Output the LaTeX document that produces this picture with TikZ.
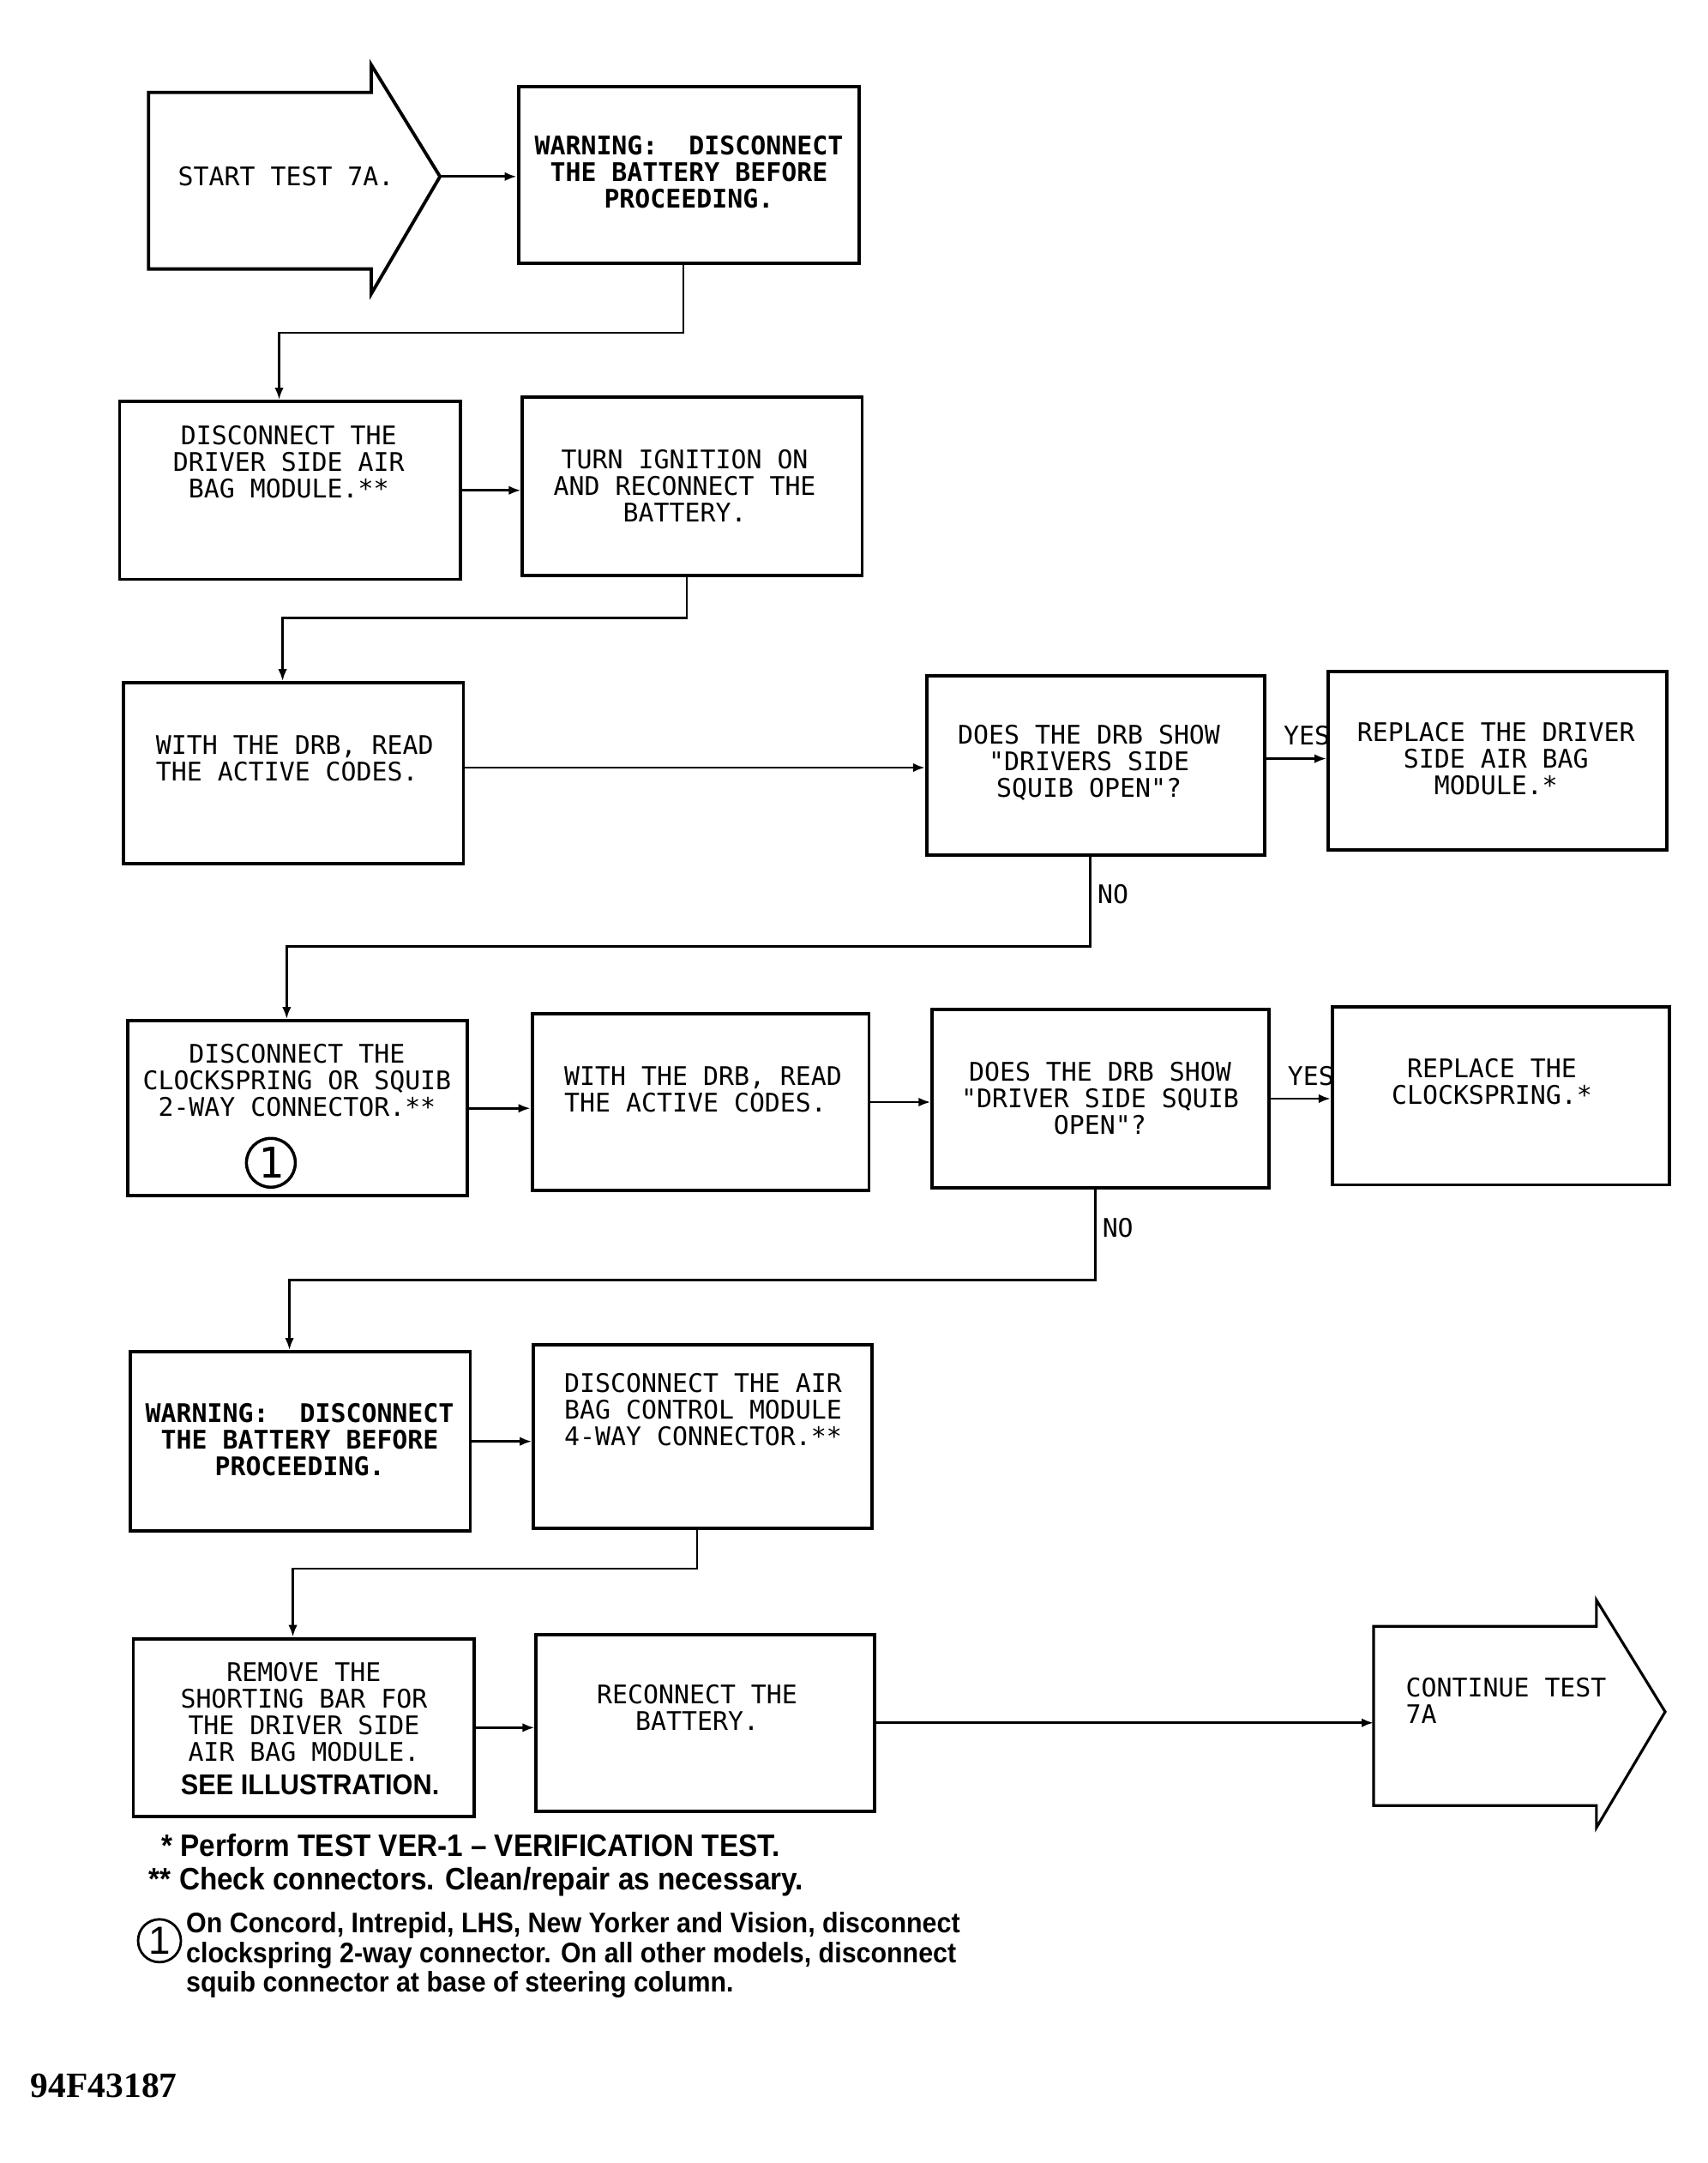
\documentclass[tikz,border=0pt]{standalone}
\usepackage{fontspec}
\setmainfont{Liberation Sans}
\newfontfamily\plotfont{DejaVu Sans Mono}
\newfontfamily\notefont[FakeStretch=0.92]{Liberation Sans}
\newfontfamily\tagfont{Liberation Serif}
\usetikzlibrary{arrows.meta}
\usetikzlibrary{fit}
\usetikzlibrary{calc}
\newcommand{\flowbox}[5] % name, left, top, right, bottom (px)
{
	% corners
	\coordinate (#1-nw) at (#2,#3);
	\coordinate (#1-se) at (#4,#5);
	% box
	\node[stepbox, fit=(#1-nw)(#1-se)] (#1) {};
}

\begin{document}
\begin{tikzpicture}[x=0.01604cm, y=-0.01609cm,
	stepbox/.style={draw, line width=1.1pt, inner sep=0pt},
	steptext/.style={font=\plotfont\fontsize{8.5}{8.8}\selectfont, align=center, inner sep=0pt},
	warntext/.style={steptext, font=\plotfont\bfseries\fontsize{8.5}{8.8}\selectfont},
	branch/.style={font=\plotfont\fontsize{8.5}{8.8}\selectfont, inner sep=2pt},
	flow/.style={line width=0.8pt, -{Latex[length=4pt,width=3pt]}},
	note/.style={font=\notefont\bfseries\fontsize{10.3}{10.5}\selectfont, anchor=west, inner sep=0pt, align=left}]
	\useasboundingbox (0cm,0cm) rectangle (19.91cm,-25.22cm);
	% start arrow
	\draw[line width=1.1pt] (108,67) -- (270,67) -- (270,47) -- (320,128) -- (270,213) -- (270,195) -- (108,195) -- cycle;
	\coordinate (start) at (320,128);
	\node[steptext] (start-txt) at (208,128) {START TEST 7A.};
	% continue arrow
	\draw[line width=0.9pt] (999,1179) -- (1161,1179) -- (1161,1160) -- (1211,1241) -- (1161,1325) -- (1161,1309) -- (999,1309) -- cycle;
	\coordinate (cont) at (999,1244);
	\node[steptext, anchor=west, align=left] (cont-txt) at (1022,1233) {CONTINUE TEST\\7A};

	% boxes
	\flowbox{warn1}{377}{63}{625}{191}
	\flowbox{unplug}{87}{291}{335}{420}
	\flowbox{ignition}{380}{288}{627}{417}
	\flowbox{read1}{90}{495}{337}{626}
	\flowbox{ask1}{674}{490}{920}{620}
	\flowbox{swap1}{966}{487}{1212}{616}
	\flowbox{clock}{93}{740}{340}{867}
	\flowbox{read2}{387}{735}{632}{863}
	\flowbox{ask2}{678}{732}{923}{861}
	\flowbox{swap2}{969}{730}{1214}{859}
	\flowbox{warn2}{95}{980}{342}{1110}
	\flowbox{module}{388}{975}{634}{1108}
	\flowbox{shortbar}{97}{1188}{345}{1317}
	\flowbox{recon}{390}{1185}{636}{1313}

	% box texts
	\node[warntext] (warn1-txt) at (501,125) {WARNING:\ \ DISCONNECT\\THE BATTERY BEFORE\\PROCEEDING.};
	\node[steptext] (unplug-txt) at (210,335) {DISCONNECT THE\\DRIVER SIDE AIR\\BAG MODULE.**};
	\node[steptext] (ignition-txt) at (498,352) {TURN IGNITION ON\\AND RECONNECT THE\\BATTERY.};
	\node[steptext, anchor=west, align=left] (read1-txt) at (113,550) {WITH THE DRB, READ\\THE ACTIVE CODES.};
	\node[steptext] (ask1-txt) at (792,553) {DOES THE DRB SHOW\\"DRIVERS SIDE\\SQUIB OPEN"?};
	\node[steptext] (swap1-txt) at (1088,550) {REPLACE THE DRIVER\\SIDE AIR BAG\\MODULE.*};
	\node[steptext] (clock-txt) at (216,783) {DISCONNECT THE\\CLOCKSPRING OR SQUIB\\2-WAY CONNECTOR.**};
	\node[circle, draw, line width=1pt, minimum size=0.57cm, inner sep=0pt, font=\plotfont\fontsize{14}{14}\selectfont] (mark) at (197,843) {1};
	\node[steptext, anchor=west, align=left] (read2-txt) at (410,790) {WITH THE DRB, READ\\THE ACTIVE CODES.};
	\node[steptext] (ask2-txt) at (800,796) {DOES THE DRB SHOW\\"DRIVER SIDE SQUIB\\OPEN"?};
	\node[steptext] (swap2-txt) at (1085,784) {REPLACE THE\\CLOCKSPRING.*};
	\node[warntext] (warn2-txt) at (218,1044) {WARNING:\ \ DISCONNECT\\THE BATTERY BEFORE\\PROCEEDING.};
	\node[steptext, anchor=west, align=left] (module-txt) at (410,1022) {DISCONNECT THE AIR\\BAG CONTROL MODULE\\4-WAY CONNECTOR.**};
	\node[steptext] (shortbar-txt) at (221,1241) {REMOVE THE\\SHORTING BAR FOR\\THE DRIVER SIDE\\AIR BAG MODULE.};
	\node[note, font=\notefont\bfseries\fontsize{9.5}{9.7}\selectfont] (see-txt) at (131,1294) {SEE ILLUSTRATION.};
	\node[steptext] (recon-txt) at (507,1238) {RECONNECT THE\\BATTERY.};

	% connectors
	\draw[flow] (start) -- (start -| warn1.west);
	\draw[flow] ($(warn1.south)+(-4,0)$) -- ++(0,49) -| ($(unplug.north)+(-8,0)$);
	\draw[flow] (unplug.east) -- (unplug.east -| ignition.west);
	\draw[flow] ($(ignition.south)+(-4,0)$) -- ++(0,30) -| ($(read1.north)+(-8,0)$);
	\draw[flow] ($(read1.east)+(0,-4)$) -- ($(read1.east -| ask1.west)+(0,-4)$);
	\draw[flow] ($(ask1.east)+(0,-5)$) -- ($(ask1.east -| swap1.west)+(0,-5)$) node[branch, pos=1, anchor=south east, inner xsep=0pt, inner ysep=4pt, xshift=1.5pt] {YES};
	\draw[flow] ($(ask1.south)+(-4,0)$) -- ++(0,65) node[branch, pos=0.42, anchor=west] {NO} -| ($(clock.north)+(-8,0)$);
	\draw[flow] (clock.east) -- (clock.east -| read2.west);
	\draw[flow] (read2.east) -- (read2.east -| ask2.west);
	\draw[flow] (ask2.east) -- (ask2.east -| swap2.west) node[branch, pos=1, anchor=south east, inner xsep=0pt, inner ysep=4pt, xshift=1.5pt] {YES};
	\draw[flow] ($(ask2.south)+(-4,0)$) -- ++(0,66) node[branch, pos=0.42, anchor=west] {NO} -| ($(warn2.north)+(-8,0)$);
	\draw[flow] (warn2.east) -- (warn2.east -| module.west);
	\draw[flow] ($(module.south)+(-4,0)$) -- ++(0,28) -| ($(shortbar.north)+(-8,0)$);
	\draw[flow] (shortbar.east) -- (shortbar.east -| recon.west);
	\draw[flow] (recon.east) -- (recon.east -| cont);

	% footnotes
	\node[note] (note1) at (117,1338) {* Perform TEST VER-1 – VERIFICATION TEST.};
	\node[note] (note2) at (108,1364) {** Check connectors. Clean/repair as necessary.};
	\node[circle, draw, line width=0.8pt, minimum size=0.5cm, inner sep=0pt, font=\fontsize{13}{13}\selectfont] (mark2) at (116,1407) {1};
	\node[note, anchor=north west, font=\notefont\bfseries\fontsize{9.4}{9.8}\selectfont] (note3) at (135,1386) {On Concord, Intrepid, LHS, New Yorker and Vision, disconnect\\clockspring 2-way connector. On all other models, disconnect\\squib connector at base of steering column.};
	\node[anchor=west, inner sep=0pt, font=\tagfont\bfseries\fontsize{11.8}{12}\selectfont] (tag) at (22,1512) {94F43187};
\end{tikzpicture}
\end{document}
